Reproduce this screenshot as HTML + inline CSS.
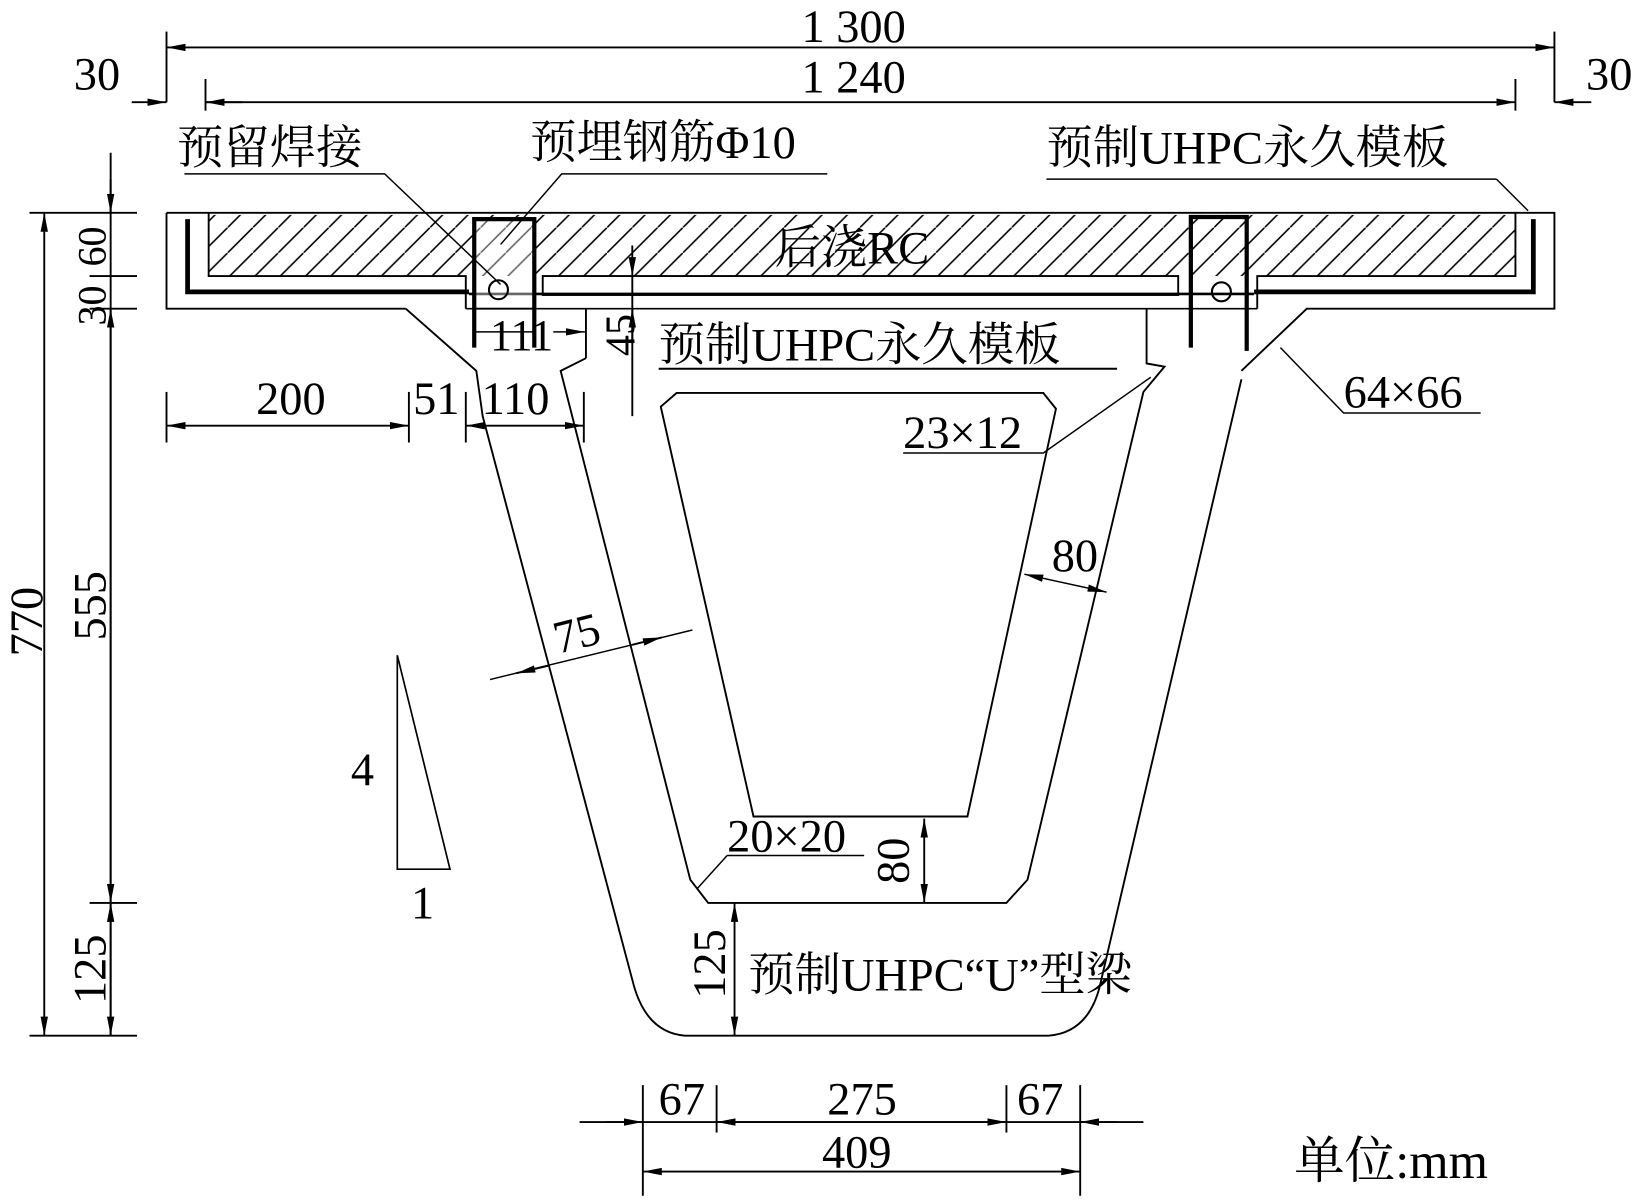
<!DOCTYPE html>
<html><head><meta charset="utf-8"><style>
html,body{margin:0;padding:0;background:#fff}
svg{display:block}
text{font-family:"Liberation Serif","Noto Serif CJK SC","Noto Sans CJK SC",serif;fill:#000}
</style></head><body>
<svg width="1644" height="1200" viewBox="0 0 1560 1139" preserveAspectRatio="none" xmlns="http://www.w3.org/2000/svg">
<defs>
<pattern id="h" width="24" height="24" patternUnits="userSpaceOnUse">
<line x1="0" y1="24" x2="24" y2="0" stroke="#000" stroke-width="1.5"/>
</pattern>
<marker id="a" markerWidth="18" markerHeight="10" refX="18" refY="5" orient="auto" markerUnits="userSpaceOnUse"><path d="M0,1.5 L18,5 L0,8.5 Z" fill="#000"/></marker>
<marker id="b" markerWidth="18" markerHeight="10" refX="0" refY="5" orient="auto" markerUnits="userSpaceOnUse"><path d="M18,1.5 L0,5 L18,8.5 Z" fill="#000"/></marker>
</defs>
<g stroke="#000" fill="none" stroke-width="1.8">
<line x1="158" y1="30" x2="158" y2="97"/><line x1="1475" y1="30" x2="1475" y2="97"/>
<line x1="158" y1="45" x2="1475" y2="45" marker-start="url(#b)" marker-end="url(#a)"/>
<line x1="195" y1="75" x2="195" y2="105"/><line x1="1438" y1="75" x2="1438" y2="105"/>
<line x1="195" y1="97" x2="1438" y2="97" marker-start="url(#b)" marker-end="url(#a)"/>
<line x1="125" y1="97" x2="158" y2="97" marker-end="url(#a)"/><line x1="195" y1="97" x2="230" y2="97"/>
<line x1="1510" y1="97" x2="1475" y2="97" marker-end="url(#a)"/>
<rect x="198" y="204" width="1240" height="58" fill="url(#h)" stroke="none"/>
<path d="M158,202 H1475 V293 H1240 L1178,352 M385,293 H158 V202"/>
<path d="M198,202 V262 H442 V293 M1438,202 V262 H1193 V293"/>
<path d="M442,293 H1193" stroke-width="1.5"/>
<rect x="515" y="262" width="603" height="18" fill="#fff"/>
<path d="M178,208 V277 H445 M1455,208 V277 H1190" stroke-width="4.5"/>
<line x1="445" y1="279" x2="1190" y2="279" stroke-width="2.5"/>
<rect x="450" y="208" width="57" height="85" fill="#fff" fill-opacity="0.4"/>
<path d="M450,330 V208 H507 V330 M1130,330 V206 H1183 V333" stroke-width="4"/>
<circle cx="473" cy="275" r="9" stroke-width="2"/><circle cx="1159" cy="277" r="9" stroke-width="2"/>
<path d="M385,293 L452,352 L458,395 L600,930 Q612,980 650,983 H995 Q1035,980 1045,930 L1178,360"/>
<path d="M556,340 L532,352 L655,835 L672,857 H955 L975,835 L1085,372 L1105,348 L1088,345 V293"/>
<path d="M556,293 V340"/>
<path d="M642,373 L627,386 L715,775 H918 L1002,388 L990,373 Z"/>
<path d="M175,165 H365 L475,270" stroke-width="1.4"/>
<path d="M785,165 H533 L475,232" stroke-width="1.4"/>
<path d="M1420,170 H993 M1420,170 L1450,200" stroke-width="1.4"/>
<path d="M1405,392 H1275 L1215,330" stroke-width="1.4"/>
<path d="M857,430 H990 L1092,358" stroke-width="1.4"/>
<path d="M690,812 H820 M690,812 L662,843" stroke-width="1.4"/>
<path d="M625,350 H1060" stroke-width="2"/>
<line x1="450" y1="315" x2="508" y2="315" stroke-width="1.4"/>
<line x1="525" y1="315" x2="555" y2="315" stroke-width="1.4" marker-end="url(#a)"/>
<line x1="600" y1="233" x2="600" y2="262" marker-end="url(#a)"/><line x1="600" y1="325" x2="600" y2="293" marker-end="url(#a)"/>
<line x1="600" y1="262" x2="600" y2="395"/>
<line x1="158" y1="372" x2="158" y2="420"/><line x1="388" y1="372" x2="388" y2="420"/><line x1="442" y1="372" x2="442" y2="420"/><line x1="554" y1="372" x2="554" y2="420"/>
<line x1="158" y1="404" x2="388" y2="404" marker-start="url(#b)" marker-end="url(#a)"/>
<line x1="442" y1="404" x2="554" y2="404" marker-start="url(#b)" marker-end="url(#a)"/>
<line x1="465" y1="645" x2="657" y2="598" stroke-width="1.4"/>
<line x1="520" y1="632" x2="490" y2="639" marker-end="url(#a)"/><line x1="600" y1="612" x2="628" y2="605" marker-end="url(#a)"/>
<line x1="972" y1="545" x2="1050" y2="562" stroke-width="1.4" marker-start="url(#b)" marker-end="url(#a)"/>
<line x1="877" y1="777" x2="877" y2="857" marker-start="url(#b)" marker-end="url(#a)"/>
<line x1="697" y1="857" x2="697" y2="983" marker-start="url(#b)" marker-end="url(#a)"/>
<line x1="28" y1="202" x2="130" y2="202"/><line x1="85" y1="262" x2="130" y2="262"/><line x1="85" y1="293" x2="130" y2="293"/>
<line x1="85" y1="857" x2="130" y2="857"/><line x1="28" y1="983" x2="130" y2="983"/>
<line x1="42" y1="202" x2="42" y2="983" marker-start="url(#b)" marker-end="url(#a)"/>
<line x1="105" y1="145" x2="105" y2="983"/>
<line x1="105" y1="170" x2="105" y2="202" marker-end="url(#a)"/>
<line x1="105" y1="293" x2="105" y2="857" marker-start="url(#b)" marker-end="url(#a)"/>
<line x1="105" y1="857" x2="105" y2="983" marker-start="url(#b)" marker-end="url(#a)"/>
<path d="M377,622 V825 H427 Z" stroke-width="1.6"/>
<line x1="610" y1="1030" x2="610" y2="1135"/><line x1="680" y1="1030" x2="680" y2="1075"/><line x1="955" y1="1030" x2="955" y2="1075"/><line x1="1025" y1="1030" x2="1025" y2="1135"/>
<line x1="550" y1="1065" x2="1085" y2="1065"/>
<line x1="575" y1="1065" x2="610" y2="1065" marker-end="url(#a)"/><line x1="680" y1="1065" x2="955" y2="1065" marker-start="url(#b)" marker-end="url(#a)"/><line x1="1060" y1="1065" x2="1025" y2="1065" marker-end="url(#a)"/>
<line x1="610" y1="1112" x2="1025" y2="1112" marker-start="url(#b)" marker-end="url(#a)"/>
</g>
<g font-size="44">
<text x="810" y="40" text-anchor="middle">1 300</text>
<text x="810" y="88" text-anchor="middle">1 240</text>
<text x="70" y="85">30</text><text x="1505" y="85">30</text>
<text x="168" y="155">预留焊接</text>
<text x="503" y="150">预埋钢筋Φ10</text>
<text x="993" y="155">预制UHPC永久模板</text>
<text x="735" y="250">后浇RC</text>
<text x="465" y="332" font-size="42">111</text>
<text x="625" y="342">预制UHPC永久模板</text>
<text x="243" y="393">200</text><text x="392" y="393">51</text><text x="457" y="393">110</text>
<text x="1275" y="387">64×66</text>
<text x="857" y="425">23×12</text>
<text x="998" y="542">80</text>
<text x="525" y="615" transform="rotate(-14 550 600)">75</text>
<text x="333" y="745">4</text><text x="390" y="872">1</text>
<text x="690" y="808">20×20</text>
<text x="710" y="940">预制UHPC“U”型梁</text>
<text x="625" y="1058">67</text><text x="785" y="1058">275</text><text x="965" y="1058">67</text>
<text x="780" y="1108">409</text>
<text x="1228" y="1118" font-size="48">单位:mm</text>
<text transform="translate(602,298) rotate(-90)" font-size="40" text-anchor="end">45</text>
<text transform="translate(40,590) rotate(-90)" text-anchor="middle">770</text>
<text transform="translate(100,575) rotate(-90)" text-anchor="middle">555</text>
<text transform="translate(100,234) rotate(-90)" text-anchor="middle" font-size="38">60</text>
<text transform="translate(100,290) rotate(-90)" text-anchor="middle" font-size="38">30</text>
<text transform="translate(100,920) rotate(-90)" text-anchor="middle">125</text>
<text transform="translate(862,817) rotate(-90)" text-anchor="middle">80</text>
<text transform="translate(688,915) rotate(-90)" text-anchor="middle">125</text>
</g>
</svg>
</body></html>
